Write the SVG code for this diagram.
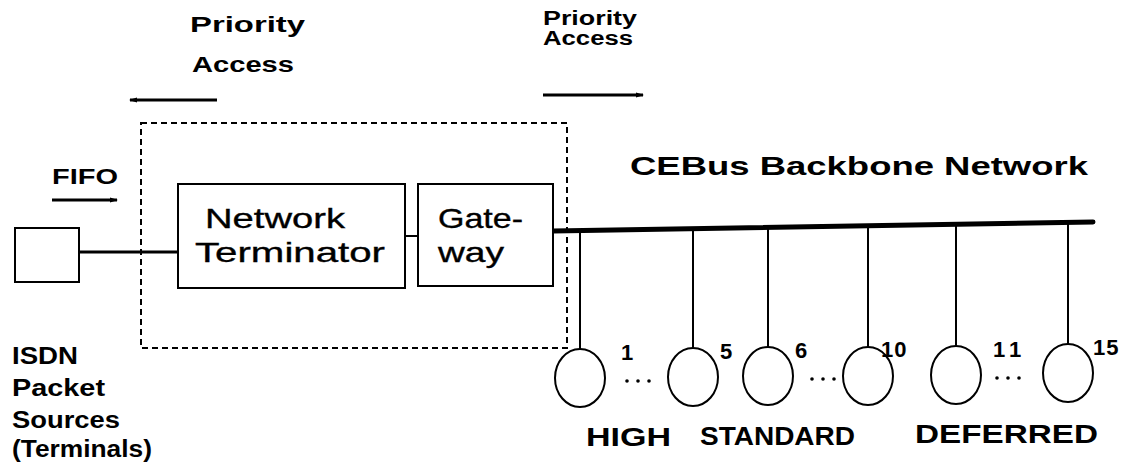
<svg xmlns="http://www.w3.org/2000/svg" width="1136" height="463" viewBox="0 0 1136 463">
<style>
.lbl{font-family:"Liberation Sans",Arial,sans-serif;font-weight:bold;fill:#000;}
.boxtxt{font-family:"Liberation Sans",Arial,sans-serif;font-size:28px;fill:#000;stroke:#000;stroke-width:0.35;}
.box{fill:#fff;stroke:#000;stroke-width:2;}
.ln{stroke:#000;fill:none;}
.node{fill:#fff;stroke:#000;stroke-width:2;}
.num{font-family:"Liberation Sans",Arial,sans-serif;font-weight:bold;font-size:22px;}
</style>
<defs>
<marker id="ah" markerWidth="8" markerHeight="6" refX="7" refY="3" orient="auto" markerUnits="userSpaceOnUse">
<path d="M0,0.5 L8,3 L0,5.5 Z" fill="#000"/>
</marker>
</defs>
<rect width="1136" height="463" fill="#fff"/>

<g id="priority-left">
<text class="lbl" x="190" y="32" font-size="22" textLength="115" lengthAdjust="spacingAndGlyphs">Priority</text>
<text class="lbl" x="192" y="72" font-size="22" textLength="102" lengthAdjust="spacingAndGlyphs">Access</text>
</g>
<g id="priority-right">
<text class="lbl" x="543" y="25" font-size="20" textLength="94" lengthAdjust="spacingAndGlyphs">Priority</text>
<text class="lbl" x="543" y="45" font-size="20" textLength="90" lengthAdjust="spacingAndGlyphs">Access</text>
</g>
<g id="fifo">
<text class="lbl" x="52" y="184" font-size="22" textLength="66" lengthAdjust="spacingAndGlyphs">FIFO</text>
</g>

<g id="gateway-boundary">
<rect x="141" y="123" width="426" height="225" fill="none" stroke="#000" stroke-width="2" stroke-dasharray="6 4"/>
</g>

<g id="connectors">
<line class="ln" x1="217" y1="100" x2="130" y2="100" stroke-width="3" marker-end="url(#ah)"/>
<line class="ln" x1="543" y1="95" x2="643" y2="95" stroke-width="3" marker-end="url(#ah)"/>
<line class="ln" x1="52" y1="200" x2="117" y2="200" stroke-width="3" marker-end="url(#ah)"/>
<line class="ln" x1="79" y1="252" x2="178" y2="252" stroke-width="3"/>
<line class="ln" x1="405" y1="236" x2="418" y2="236" stroke-width="2"/>
<line class="ln" x1="553" y1="231" x2="1093" y2="222" stroke-width="5" stroke-linecap="round"/>
<line class="ln" x1="580" y1="231" x2="580" y2="349" stroke-width="2"/>
<line class="ln" x1="693" y1="229" x2="693" y2="348" stroke-width="2"/>
<line class="ln" x1="768" y1="228" x2="768" y2="347" stroke-width="2"/>
<line class="ln" x1="868" y1="226" x2="868" y2="347" stroke-width="2"/>
<line class="ln" x1="956" y1="225" x2="956" y2="346" stroke-width="2"/>
<line class="ln" x1="1068" y1="223" x2="1068" y2="344" stroke-width="2"/>
</g>

<g id="isdn-source">
<rect class="box" x="15" y="228" width="64" height="54"/>
</g>
<g id="network-terminator">
<rect class="box" x="178" y="184" width="227" height="104"/>
<text class="boxtxt" x="205" y="228" textLength="140" lengthAdjust="spacingAndGlyphs">Network</text>
<text class="boxtxt" x="195" y="262" textLength="190" lengthAdjust="spacingAndGlyphs">Terminator</text>
</g>
<g id="gateway">
<rect class="box" x="418" y="184" width="135" height="102"/>
<text class="boxtxt" x="438" y="228" textLength="85" lengthAdjust="spacingAndGlyphs">Gate-</text>
<text class="boxtxt" x="438" y="262" textLength="66" lengthAdjust="spacingAndGlyphs">way</text>
</g>
<g id="backbone-label">
<text class="lbl" x="630" y="175" font-size="26" textLength="458" lengthAdjust="spacingAndGlyphs">CEBus Backbone Network</text>
</g>

<g id="node-1"><ellipse class="node" cx="580" cy="378" rx="25" ry="29"/><text class="num" x="621" y="360">1</text></g>
<g id="node-5"><ellipse class="node" cx="693" cy="377" rx="25" ry="29"/><text class="num" x="720" y="359">5</text></g>
<g id="node-6"><ellipse class="node" cx="768" cy="376" rx="25" ry="29"/><text class="num" x="795" y="358">6</text></g>
<g id="node-10"><ellipse class="node" cx="868" cy="376" rx="25" ry="29"/><text class="num" x="881" y="357" letter-spacing="1">10</text></g>
<g id="node-11"><ellipse class="node" cx="956" cy="375" rx="25" ry="29"/><text class="num" x="993" y="357" letter-spacing="5">11</text></g>
<g id="node-15"><ellipse class="node" cx="1068" cy="373" rx="25" ry="29"/><text class="num" x="1093" y="355" letter-spacing="1">15</text></g>

<g id="ellipsis" fill="#000">
<circle cx="627" cy="381" r="1.8"/><circle cx="638" cy="381" r="1.8"/><circle cx="649" cy="381" r="1.8"/>
<circle cx="812" cy="379" r="1.8"/><circle cx="823" cy="379" r="1.8"/><circle cx="834" cy="379" r="1.8"/>
<circle cx="997" cy="378" r="1.8"/><circle cx="1008" cy="378" r="1.8"/><circle cx="1019" cy="378" r="1.8"/>
</g>

<g id="priority-labels">
<text class="lbl" x="586" y="446" font-size="26" textLength="85" lengthAdjust="spacingAndGlyphs">HIGH</text>
<text class="lbl" x="700" y="445" font-size="26" textLength="155" lengthAdjust="spacingAndGlyphs">STANDARD</text>
<text class="lbl" x="915" y="443" font-size="26" textLength="183" lengthAdjust="spacingAndGlyphs">DEFERRED</text>
</g>

<g id="isdn-label">
<text class="lbl" x="12" y="364" font-size="23" textLength="66" lengthAdjust="spacingAndGlyphs">ISDN</text>
<text class="lbl" x="12" y="396" font-size="23" textLength="93" lengthAdjust="spacingAndGlyphs">Packet</text>
<text class="lbl" x="12" y="428" font-size="23" textLength="108" lengthAdjust="spacingAndGlyphs">Sources</text>
<text class="lbl" x="12" y="457" font-size="23" textLength="140" lengthAdjust="spacingAndGlyphs">(Terminals)</text>
</g>
</svg>
